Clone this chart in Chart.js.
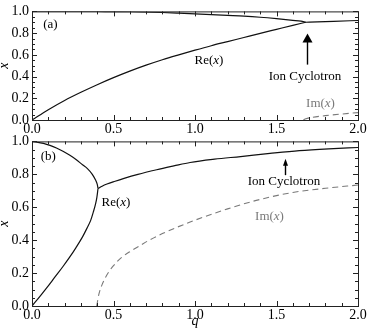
<!DOCTYPE html>
<html>
<head>
<meta charset="utf-8">
<script src="https://cdn.jsdelivr.net/npm/chart.js@4.4.1/dist/chart.umd.min.js"></script>
<style>
html, body { margin: 0; padding: 0; background: #fff; }
#wrap { position: relative; width: 377px; height: 334px; }
canvas { position: absolute; left: 0; }
#chartA { top: 0; }
#chartB { top: 130px; }
.warm { position: absolute; left: -1000px; top: 0; font-family: "Liberation Serif"; font-size: 14px; }
</style>
</head>
<body>
<div id="wrap">
<canvas id="chartA" width="377" height="142"></canvas>
<canvas id="chartB" width="377" height="204"></canvas>
</div>
<span class="warm">0.5 Ion <i>x</i></span>
<script>
// panel (a)
const aUpperQ = [0, 0.2, 0.4, 0.6, 0.8, 0.9, 1.0, 1.1, 1.2, 1.3, 1.4, 1.5, 1.6, 1.65, 1.68];
const aUpperX = [1.0, 1.0, 0.999, 0.997, 0.99, 0.984, 0.977, 0.97, 0.963, 0.956, 0.946, 0.933, 0.918, 0.91, 0.90];
const aLowerQ = [0, 0.1, 0.2, 0.3, 0.4, 0.5, 0.6, 0.7, 0.8, 0.9, 1.0, 1.1, 1.2, 1.3, 1.4, 1.5, 1.6, 1.68];
const aLowerX = [0, 0.095, 0.18, 0.255, 0.325, 0.39, 0.45, 0.505, 0.555, 0.60, 0.643, 0.684, 0.722, 0.76, 0.798, 0.835, 0.872, 0.90];
const aTailQ = [1.68, 1.75, 1.85, 2.0];
const aTailX = [0.90, 0.904, 0.909, 0.916];
const aImQ = [1.665, 1.68, 1.72, 1.8, 1.9, 2.0];
const aImX = [0, 0.012, 0.025, 0.04, 0.055, 0.068];

// panel (b)
const bUpperQ = [0, 0.03, 0.07, 0.11, 0.15, 0.19, 0.23, 0.27, 0.31, 0.34, 0.37, 0.39, 0.40, 0.405];
const bUpperX = [1.0, 0.996, 0.988, 0.976, 0.96, 0.94, 0.917, 0.89, 0.858, 0.835, 0.80, 0.765, 0.74, 0.714];
const bLowerQ = [0, 0.05, 0.09, 0.14, 0.19, 0.23, 0.27, 0.31, 0.336, 0.36, 0.376, 0.39, 0.398, 0.405];
const bLowerX = [0, 0.06, 0.11, 0.175, 0.24, 0.295, 0.355, 0.42, 0.47, 0.52, 0.57, 0.62, 0.66, 0.714];
const bTailQ = [0.405, 0.43, 0.46, 0.51, 0.56, 0.65, 0.765, 0.87, 0.97, 1.12, 1.28, 1.46, 1.64, 1.82, 2.0];
const bTailX = [0.714, 0.728, 0.741, 0.758, 0.774, 0.80, 0.828, 0.851, 0.872, 0.892, 0.908, 0.927, 0.944, 0.955, 0.963];
const bImQ = [0.397, 0.41, 0.43, 0.46, 0.5, 0.55, 0.6, 0.66, 0.71, 0.8, 0.97, 1.2, 1.37, 1.6, 1.8, 2.0];
const bImX = [0, 0.07, 0.13, 0.19, 0.245, 0.295, 0.33, 0.365, 0.395, 0.44, 0.51, 0.59, 0.64, 0.69, 0.715, 0.735];

const xTicks = [0, 0.5, 1.0, 1.5, 2.0];
const yTicks = [0, 0.2, 0.4, 0.6, 0.8, 1.0];

const FONT = '"Liberation Serif", "DejaVu Serif", serif';
const GREY = '#7a7a7a';

function pts(qs, xs) {
  return qs.map((q, i) => ({x: q, y: xs[i]}));
}

function solid(qs, xs) {
  return {data: pts(qs, xs), borderColor: '#111', borderWidth: 1.2, pointRadius: 0,
    cubicInterpolationMode: 'monotone', fill: false};
}

function dashed(qs, xs) {
  return {data: pts(qs, xs), borderColor: GREY, borderWidth: 1.1, borderDash: [6, 4], pointRadius: 0,
    cubicInterpolationMode: 'monotone', fill: false};
}

// frame with inward major/minor ticks on all four sides
const framePlugin = {
  id: 'frame',
  afterDatasetsDraw(chart) {
    const {ctx, chartArea: a, scales: {x, y}} = chart;
    ctx.save();
    ctx.strokeStyle = '#222';
    ctx.lineWidth = 1;
    ctx.strokeRect(a.left + 0.5, a.top + 0.5, a.right - a.left, a.bottom - a.top);
    ctx.beginPath();
    for (let i = 0; i <= 20; i++) {
      const px = Math.round(x.getPixelForValue(i * 0.1)) + 0.5;
      const len = i % 5 === 0 ? 5 : 3;
      ctx.moveTo(px, a.bottom); ctx.lineTo(px, a.bottom - len);
      ctx.moveTo(px, a.top); ctx.lineTo(px, a.top + len);
    }
    for (let i = 0; i <= 20; i++) {
      const py = Math.round(y.getPixelForValue(i * 0.05)) + 0.5;
      const len = i % 4 === 0 ? 5 : 3;
      ctx.moveTo(a.left, py); ctx.lineTo(a.left + len, py);
      ctx.moveTo(a.right, py); ctx.lineTo(a.right - len, py);
    }
    ctx.stroke();
    ctx.restore();
  }
};

// labels and arrows placed in data units
const notesPlugin = {
  id: 'notes',
  afterDatasetsDraw(chart, args, opts) {
    const {ctx, scales: {x, y}} = chart;
    ctx.save();
    (opts.items || []).forEach(it => {
      if (it.type === 'text') {
        ctx.fillStyle = it.color || '#000';
        ctx.textBaseline = 'middle';
        ctx.textAlign = 'left';
        const widths = it.parts.map(p => {
          ctx.font = (p[1] ? p[1] + ' ' : '') + '13px ' + FONT;
          return ctx.measureText(p[0]).width;
        });
        let cx = x.getPixelForValue(it.q) - widths.reduce((s, w) => s + w, 0) / 2;
        const cy = y.getPixelForValue(it.v);
        it.parts.forEach((p, i) => {
          ctx.font = (p[1] ? p[1] + ' ' : '') + '13px ' + FONT;
          ctx.fillText(p[0], cx, cy);
          cx += widths[i];
        });
      } else if (it.type === 'arrow') {
        const px = Math.round(x.getPixelForValue(it.q)) + 0.5;
        const y0 = y.getPixelForValue(it.from);
        const y1 = y.getPixelForValue(it.to);
        const [hw, hh] = it.head;
        ctx.strokeStyle = '#000';
        ctx.fillStyle = '#000';
        ctx.lineWidth = 1.4;
        ctx.beginPath();
        ctx.moveTo(px, y0);
        ctx.lineTo(px, y1 + hh - 1);
        ctx.stroke();
        ctx.beginPath();
        ctx.moveTo(px, y1);
        ctx.lineTo(px - hw / 2, y1 + hh);
        ctx.lineTo(px + hw / 2, y1 + hh);
        ctx.closePath();
        ctx.fill();
      }
    });
    ctx.restore();
  }
};

function makeChart(id, datasets, opts) {
  return new Chart(document.getElementById(id), {
    type: 'line',
    data: {datasets: datasets},
    options: {
      responsive: false,
      animation: false,
      layout: {padding: {top: opts.top, right: 19, left: 0, bottom: 0}},
      plugins: {
        legend: {display: false},
        tooltip: {enabled: false},
        notes: {items: opts.notes}
      },
      scales: {
        x: {
          type: 'linear', min: 0, max: 2,
          afterFit(s) { s.height = opts.xh; },
          afterBuildTicks(s) { s.ticks = xTicks.map(v => ({value: v})); },
          grid: {display: false, drawTicks: false},
          border: {display: false},
          ticks: {padding: 1, color: '#000', maxRotation: 0, autoSkip: false,
            font: {family: FONT, size: 14}, callback: v => v.toFixed(1)},
          title: {display: !!opts.xTitle, text: 'q', color: '#000', padding: {top: 0, bottom: 4},
            font: {family: FONT, size: 14, style: 'italic'}}
        },
        y: {
          type: 'linear', min: 0, max: 1,
          afterFit(s) { s.width = 32; },
          afterBuildTicks(s) { s.ticks = yTicks.map(v => ({value: v})); },
          grid: {display: false, drawTicks: false},
          border: {display: false},
          ticks: {padding: 3, color: '#000', font: {family: FONT, size: 14},
            callback: v => v.toFixed(1)},
          title: {display: true, text: 'x', color: '#000', padding: 0,
            font: {family: FONT, size: 14, style: 'italic', lineHeight: 0.6}}
        }
      }
    },
    plugins: [framePlugin, notesPlugin]
  });
}

function draw() {
  makeChart('chartA', [
    solid(aUpperQ, aUpperX),
    solid(aLowerQ, aLowerX),
    solid(aTailQ, aTailX),
    dashed(aImQ, aImX)
  ], {
    top: 10, xh: 22, xTitle: false,
    notes: [
      {type: 'text', q: 0.113, v: 0.88, parts: [['(a)', '']]},
      {type: 'text', q: 1.086, v: 0.545, parts: [['Re(', ''], ['x', 'italic'], [')', '']]},
      {type: 'text', q: 1.675, v: 0.40, parts: [['Ion Cyclotron', '']]},
      {type: 'text', q: 1.77, v: 0.155, color: GREY, parts: [['Im(', ''], ['x', 'italic'], [')', '']]},
      {type: 'arrow', q: 1.685, from: 0.51, to: 0.797, head: [10, 9]}
    ]
  });

  makeChart('chartB', [
    solid(bUpperQ, bUpperX),
    solid(bLowerQ, bLowerX),
    solid(bTailQ, bTailX),
    dashed(bImQ, bImX)
  ], {
    top: 9, xh: 28, xTitle: true,
    notes: [
      {type: 'text', q: 0.1, v: 0.909, parts: [['(b)', '']]},
      {type: 'text', q: 0.515, v: 0.63, parts: [['Re(', ''], ['x', 'italic'], [')', '']]},
      {type: 'text', q: 1.546, v: 0.755, parts: [['Ion Cyclotron', '']]},
      {type: 'text', q: 1.457, v: 0.546, color: GREY, parts: [['Im(', ''], ['x', 'italic'], [')', '']]},
      {type: 'arrow', q: 1.554, from: 0.795, to: 0.894, head: [5, 7]}
    ]
  });
}

Promise.all([
  document.fonts.load('14px "Liberation Serif"'),
  document.fonts.load('italic 14px "Liberation Serif"')
]).then(draw, draw);
</script>
</body>
</html>
